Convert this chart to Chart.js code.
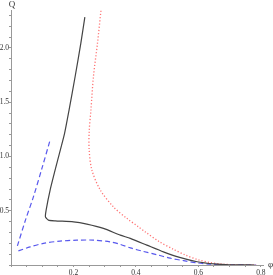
<!DOCTYPE html>
<html><head><meta charset="utf-8">
<script src="https://cdn.jsdelivr.net/npm/chart.js@4"></script>
<style>html,body{margin:0;padding:0;background:#fff;overflow:hidden}</style>
</head><body>
<canvas id="c" width="273" height="275"></canvas>
<script>
// Solid black curve
const blackX = [0.2365,0.2237,0.2054,0.1862,0.1712,0.1468,0.1253,0.1125,0.1103,0.1199,0.1413,0.200,0.243,0.296,0.350,0.382,0.435,0.488,0.540,0.596,0.650,0.700,0.780];
const blackY = [2.285,2.045,1.737,1.432,1.208,0.937,0.691,0.506,0.444,0.414,0.407,0.398,0.377,0.337,0.275,0.245,0.183,0.121,0.070,0.030,0.010,0.002,0.000];
// Red dotted curve
const redX = [0.288,0.277,0.264,0.256,0.2503,0.2503,0.259,0.286,0.328,0.371,0.408,0.430,0.475,0.520,0.560,0.600,0.640,0.680,0.740,0.785];
const redY = [2.343,2.045,1.737,1.429,1.229,1.060,0.875,0.691,0.536,0.430,0.352,0.305,0.215,0.145,0.090,0.048,0.022,0.007,0.001,0.000];
// Blue dashed, upper-left branch
const blueUpperX = [0.0205,0.047,0.072,0.099,0.1253];
const blueUpperY = [0.176,0.420,0.630,0.890,1.152];
// Blue dashed, lower branch
const blueLowerX = [0.0237,0.0612,0.104,0.157,0.211,0.264,0.318,0.350,0.382,0.424,0.467,0.510,0.553,0.596,0.638,0.700,0.785];
const blueLowerY = [0.130,0.167,0.199,0.220,0.229,0.229,0.213,0.190,0.158,0.125,0.095,0.063,0.040,0.020,0.008,0.001,0.000];
// Tick labels
const xTickLabels = ['0.2','0.4','0.6','0.8'];
const yTickLabels = ['0.5','1.0','1.5','2.0'];
const xAxisLabel = 'φ';
const yAxisLabel = 'Q';

const pts = (xs, ys) => xs.map((x, i) => ({x: x, y: ys[i]}));

const axisTitles = {
  id: 'axisTitles',
  afterDraw(chart) {
    const c = chart.ctx, a = chart.chartArea;
    c.save();
    c.fillStyle = '#333';
    c.font = '9px "Liberation Serif"';
    c.textAlign = 'center';
    c.textBaseline = 'middle';
    c.fillText(yAxisLabel, a.left + 1, 5);
    c.textAlign = 'left';
    c.fillText(xAxisLabel, a.right + 5, a.bottom);
    c.restore();
  }
};

const lineDs = (label, data, color, dash, width, tension) => ({
  label, data, showLine: true, pointRadius: 0, borderColor: color,
  borderDash: dash, borderWidth: width, fill: false, tension: tension
});

new Chart(document.getElementById('c'), {
  type: 'scatter',
  data: {
    datasets: [
      lineDs('black', pts(blackX, blackY), '#444444', [], 1.2, 0.2),
      lineDs('red', pts(redX, redY), 'rgba(255,90,90,0.85)', [1.2, 2], 1.3, 0.3),
      lineDs('blueUpper', pts(blueUpperX, blueUpperY), 'rgba(70,70,235,0.9)', [5, 3], 1.2, 0.3),
      lineDs('blueLower', pts(blueLowerX, blueLowerY), 'rgba(70,70,235,0.9)', [5, 3], 1.2, 0.3)
    ]
  },
  options: {
    responsive: false,
    animation: false,
    devicePixelRatio: 1,
    layout: { padding: { left: 0, top: 10, right: 10, bottom: 0 } },
    plugins: { legend: { display: false }, tooltip: { enabled: false } },
    scales: {
      x: {
        type: 'linear', min: 0, max: 0.807,
        afterFit(s) { s.height = 10; },
        border: { display: true, color: '#999', width: 1 },
        grid: { display: true, drawOnChartArea: false, drawTicks: true, tickLength: 2, color: '#999' },
        ticks: {
          stepSize: 0.05, includeBounds: false, autoSkip: false, maxRotation: 0, padding: 2,
          font: { family: 'Liberation Serif', size: 7.5 }, color: '#333',
          callback: (v) => { const s = v.toFixed(1); return (Math.round(v * 20) % 4 === 0 && xTickLabels.includes(s)) ? s : ''; }
        }
      },
      y: {
        type: 'linear', min: 0, max: 2.35,
        afterFit(s) { s.width = 11; },
        border: { display: true, color: '#999', width: 1 },
        grid: { display: true, drawOnChartArea: false, drawTicks: true, tickLength: 2, color: '#999' },
        ticks: {
          stepSize: 0.1, includeBounds: false, autoSkip: false, padding: 0,
          font: { family: 'Liberation Serif', size: 7.5 }, color: '#333',
          callback: (v) => { const s = v.toFixed(1); return (Math.round(v * 10) % 5 === 0 && yTickLabels.includes(s)) ? s : ''; }
        }
      }
    }
  },
  plugins: [axisTitles]
});
</script>
</body></html>
